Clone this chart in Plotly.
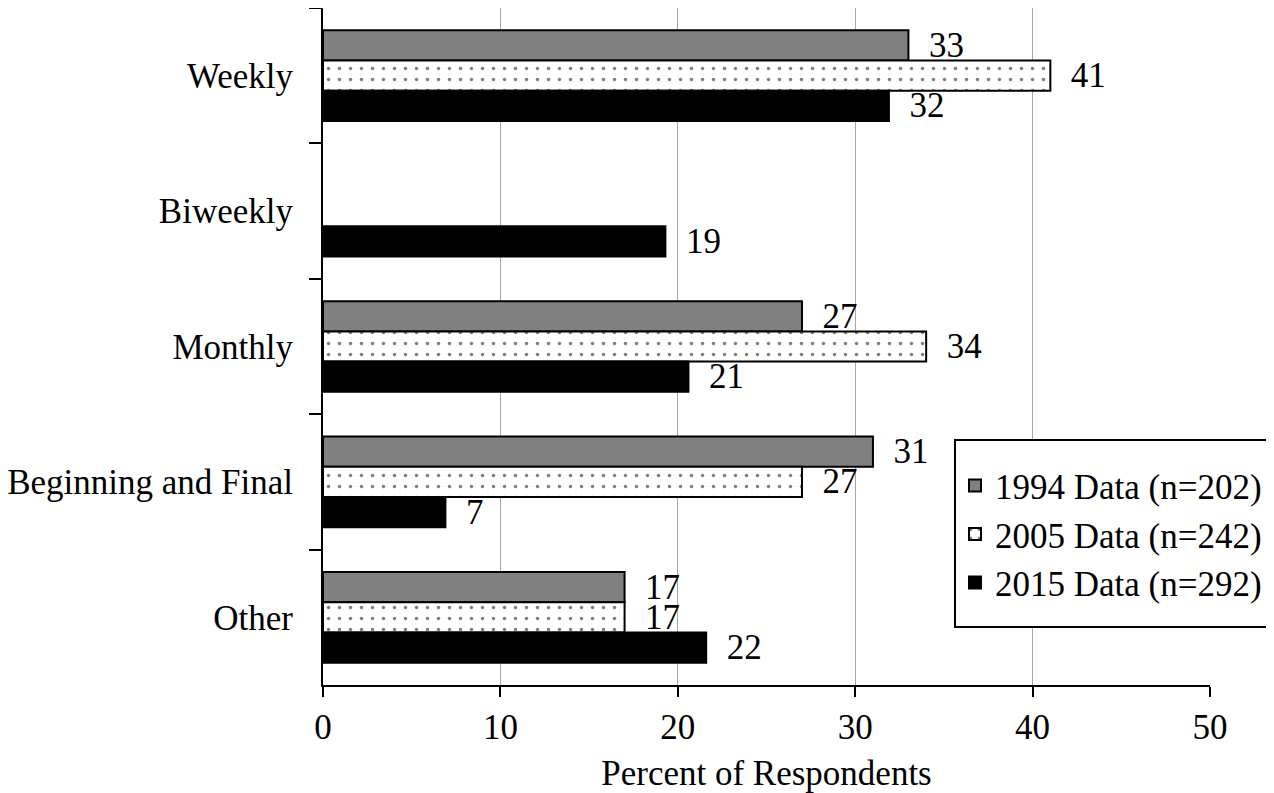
import plotly.graph_objects as go

categories = ["Weekly", "Biweekly", "Monthly", "Beginning and Final", "Other"]
series_names = ["1994 Data (n=202)", "2005 Data (n=242)", "2015 Data (n=292)"]
vals_1994 = [33, None, 27, 31, 17]
vals_2005 = [41, None, 34, 27, 17]
vals_2015 = [31.9, 19.3, 20.6, 6.9, 21.6]
labels_1994 = ["33", "", "27", "31", "17"]
labels_2005 = ["41", "", "34", "27", "17"]
labels_2015 = ["32", "19", "21", "7", "22"]
x_ticks = [0, 10, 20, 30, 40, 50]

FONT = "Liberation Serif"
FS = 35

fig = go.Figure()

styles = [
    dict(color="#808080", line=dict(color="black", width=2)),
    dict(color="white", line=dict(color="black", width=2),
         pattern=dict(shape=".", fgcolor="black", bgcolor="white", size=11, solidity=0.08)),
    dict(color="black", line=dict(color="black", width=2)),
]

for name, vals, labs, st in zip(series_names, [vals_1994, vals_2005, vals_2015],
                                [labels_1994, labels_2005, labels_2015], styles):
    fig.add_trace(go.Bar(
        y=categories, x=vals, orientation="h", name=name,
        marker=st,
        text=["\u2002" + t if t else "" for t in labs],
        textposition="outside",
        textfont=dict(family=FONT, size=FS, color="black"),
        constraintext="none",
        cliponaxis=False,
    ))

# legend frame (styling only)
fig.add_shape(type="rect", xref="paper", yref="paper",
              x0=0.7125, x1=1.0707, y0=0.0857, y1=0.3619,
              fillcolor="white", line=dict(color="black", width=2), layer="above")

# page body has an 8px default margin: compensate so the plot lands where the reference has it
fig.update_layout(
    width=1266, height=785,
    margin=dict(l=315, r=64, t=0, b=108),
    paper_bgcolor="white", plot_bgcolor="white",
    barmode="group", bargap=0.33, bargroupgap=0,
    font=dict(family=FONT, size=FS, color="black"),
    legend=dict(
        x=0.7125, y=0.338, xanchor="left", yanchor="top",
        bgcolor="rgba(0,0,0,0)", borderwidth=0,
        traceorder="normal",
        font=dict(family=FONT, size=FS, color="black"),
    ),
    showlegend=True,
)

fig.update_xaxes(
    range=[0, 50], tickvals=x_ticks, ticktext=[str(v) for v in x_ticks],
    showgrid=True, gridcolor="#a6a6a6", gridwidth=1,
    showline=True, linecolor="black", linewidth=2,
    ticks="outside", ticklen=10, tickwidth=2, tickcolor="black",
    zeroline=False, automargin=False,
    tickfont=dict(family=FONT, size=FS, color="black"),
    title=dict(text="Percent of Respondents", standoff=18,
               font=dict(family=FONT, size=FS, color="black")),
)

fig.update_yaxes(
    autorange="reversed", type="category",
    showline=True, linecolor="black", linewidth=2,
    ticks="outside", ticklen=12, tickwidth=2, tickcolor="black",
    tickson="boundaries", showgrid=False, automargin=False,
    ticklabelstandoff=21,
    tickfont=dict(family=FONT, size=FS, color="black"),
)

fig.write_html("out.html")
